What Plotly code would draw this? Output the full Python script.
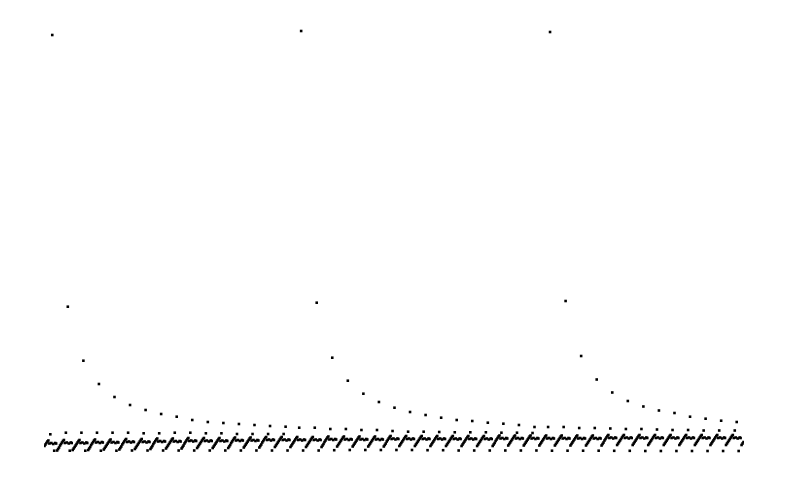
import plotly.graph_objects as go

# 45 columns (categories) in three repeating cycles
columns = list(range(45))

# decaying "peak" series (value units = height above plot bottom)
peak = [427, 155.3, 101.3, 78, 65, 57, 52, 48, 45.3, 42, 40, 39, 38, 37, 36, 35.3,
        431, 159.3, 104.3, 81.3, 68.3, 60, 54.3, 50, 47, 44.3, 42, 41, 39.3, 38.3, 37, 35,
        430, 161, 106, 82.5, 69.5, 61, 55.5, 51.5, 49, 45.3, 43.3, 41.3, 40]

# level of the dense horizontal band
band_level = [18.5, 19, 19, 19.5, 19.5, 20, 20, 20.5, 20.5, 21, 21, 21, 21.5, 21.5, 22, 22,
              22, 22, 22.5, 22.5, 22.5, 22.5, 23, 23, 23, 23, 23, 23, 23, 23.5, 23.5, 23.5,
              23.5, 23.5, 23.5, 23.5, 24, 24, 24, 24, 24, 24, 24, 24, 24]

# isolated dot just above the band
upper_dot = [27.7, 29.3, 29.3, 29.3, 29.3, 29.3, 28.7, 28.7, 29.3, 29.3, 28.7, 28.7, 28, 28, 28, 28,
             34.3, 34.3, 33, 33, 32, 32, 31, 30.3, 30.3, 30, 29.7, 29.7, 29.7, 29.3, 29.3, 29,
             35, 35, 34, 34, 33.5, 33, 33, 32.5, 32, 32, 31.5, 31.5, 31.5]

# isolated dot just below the band
lower_dot = [11.3, 11.3, 11.3, 11.3, 11.3, 11.5, 11.5, 11.5, 11.5, 11.5, 11.5, 11.5, 11.5, 11.5, 11.5, 11.5,
             11.5, 11.5, 11.8, 12, 12, 12, 12, 12, 11.8, 11.8, 11.5, 11.5, 11.5, 11.5, 11.5, 11.5,
             11.3, 11.3, 11.3, 11.3, 11.2, 11.2, 11, 11, 11, 11, 11, 11, 11]

# height of each of the 16 sub-points of a column relative to the band level
# (None = the sub-point comes from one of the named series above)
slot_offset = [-2.5, -1, 0.5, 2, 3, 0, None, 0.5, None, -0.5, None, 0.5, 0, -7, -5.5, -4]
slot_source = {6: upper_dot, 8: peak, 10: lower_dot}

fig = go.Figure()
for k, off in enumerate(slot_offset):
    if k in slot_source:
        yvals = slot_source[k]
    else:
        yvals = [lvl + off for lvl in band_level]
    fig.add_trace(go.Scatter(
        x=columns, y=yvals, mode="markers",
        marker=dict(symbol="square", size=2.6, color="black", line=dict(width=0)),
        offsetgroup=str(k), showlegend=False, hoverinfo="skip",
    ))

fig.update_layout(
    width=792, height=482,
    margin=dict(l=44, r=48, t=20, b=20),
    paper_bgcolor="white", plot_bgcolor="white",
    scattermode="group", scattergap=0,
    xaxis=dict(range=[-0.5, 44.5], visible=False),
    yaxis=dict(range=[0, 442], visible=False),
    showlegend=False,
)
fig.write_html("out.html")
